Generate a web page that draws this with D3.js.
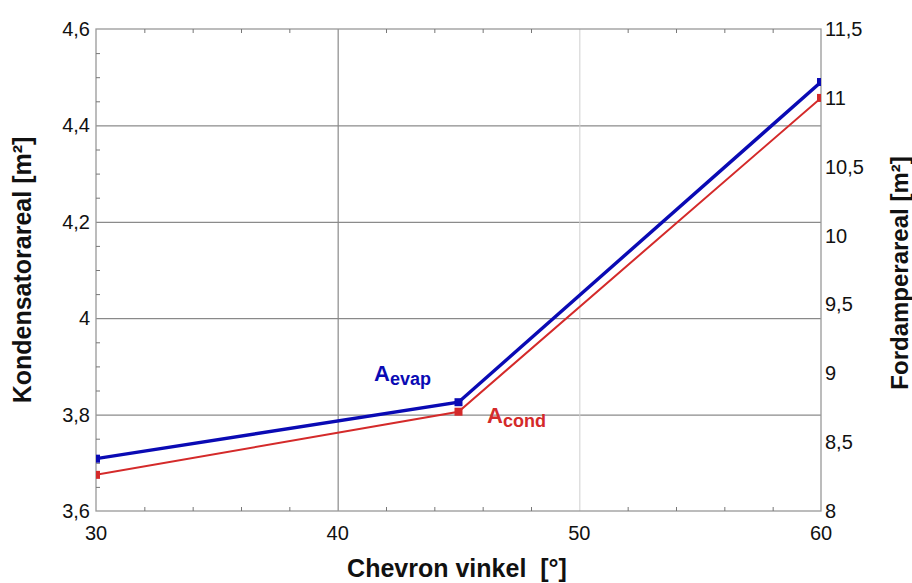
<!DOCTYPE html>
<html>
<head>
<meta charset="utf-8">
<script src="https://cdn.jsdelivr.net/npm/d3@7"></script>
<style>
  html, body { margin: 0; padding: 0; background: #fff; }
  text { font-family: "Liberation Sans", Arial, sans-serif; }
</style>
</head>
<body>
<svg id="chart" width="912" height="583"></svg>
<script>
// Chevron angle (degrees)
const angles = [30, 45, 60];
// Condenser area [m²] – left axis
const condArea = [3.675, 3.806, 4.457];
// Evaporator area [m²] – right axis
const evapArea = [8.38, 8.79, 11.115];

const xTicks = [30, 40, 50, 60];
const xMinor = [32, 34, 36, 38, 42, 44, 46, 48, 52, 54, 56, 58];
const leftTicks = [3.6, 3.8, 4.0, 4.2, 4.4, 4.6];
const leftTickLabels = ["3,6", "3,8", "4", "4,2", "4,4", "4,6"];
const leftMinor = [3.65, 3.7, 3.75, 3.85, 3.9, 3.95, 4.05, 4.1, 4.15, 4.25, 4.3, 4.35, 4.45, 4.5, 4.55];
const rightTicks = [8, 8.5, 9, 9.5, 10, 10.5, 11, 11.5];
const rightTickLabels = ["8", "8,5", "9", "9,5", "10", "10,5", "11", "11,5"];

const svg = d3.select("#chart");
const L = 96, R = 821, T = 29, B = 511;

const x = d3.scaleLinear().domain([30, 60]).range([L, R]);
const yL = d3.scaleLinear().domain([3.6, 4.6]).range([B, T]);
const yR = d3.scaleLinear().domain([8, 11.5]).range([B, T]);

// grid lines
const grid = svg.append("g");
grid.selectAll("line.h").data(leftTicks.slice(1, -1)).enter().append("line")
  .attr("x1", L).attr("x2", R)
  .attr("y1", d => yL(d) + 0.5).attr("y2", d => yL(d) + 0.5)
  .attr("stroke", "#6e6e6e").attr("stroke-width", 1);
grid.append("line")
  .attr("x1", x(40) + 0.5).attr("x2", x(40) + 0.5).attr("y1", T).attr("y2", B)
  .attr("stroke", "#8a8a8a").attr("stroke-width", 1.2);
grid.append("line")
  .attr("x1", x(50) + 0.5).attr("x2", x(50) + 0.5).attr("y1", T).attr("y2", B)
  .attr("stroke", "#cfcfcf").attr("stroke-width", 1);

// frame
svg.append("rect").attr("x", L).attr("y", T).attr("width", R - L).attr("height", B - T)
  .attr("fill", "none").attr("stroke", "#999").attr("stroke-width", 1.3);

// minor ticks (inward)
const ticks = svg.append("g").attr("stroke", "#777").attr("stroke-width", 1);
xMinor.forEach(v => {
  ticks.append("line").attr("x1", x(v) + 0.5).attr("x2", x(v) + 0.5).attr("y1", B).attr("y2", B - 4);
  ticks.append("line").attr("x1", x(v) + 0.5).attr("x2", x(v) + 0.5).attr("y1", T).attr("y2", T + 4);
});
leftMinor.forEach(v => {
  ticks.append("line").attr("x1", L).attr("x2", L + 4).attr("y1", yL(v) + 0.5).attr("y2", yL(v) + 0.5);
});

// tick labels
const fs = 20;
svg.append("g").selectAll("text").data(leftTicks).enter().append("text")
  .attr("x", L - 6).attr("y", d => yL(d)).attr("dy", "0.35em")
  .attr("text-anchor", "end").attr("font-size", fs).attr("fill", "#111")
  .text((d, i) => leftTickLabels[i]);
svg.append("g").selectAll("text").data(rightTicks).enter().append("text")
  .attr("x", R + 4).attr("y", d => yR(d)).attr("dy", "0.35em")
  .attr("text-anchor", "start").attr("font-size", fs).attr("fill", "#111")
  .text((d, i) => rightTickLabels[i]);
svg.append("g").selectAll("text").data(xTicks).enter().append("text")
  .attr("x", d => x(d)).attr("y", B + 29)
  .attr("text-anchor", "middle").attr("font-size", fs).attr("fill", "#111")
  .text(d => d);

// axis titles
svg.append("text").attr("transform", `translate(31,${(T + B) / 2}) rotate(-90)`)
  .attr("text-anchor", "middle").attr("font-size", 25).attr("font-weight", "bold").attr("fill", "#111")
  .text("Kondensatorareal [m²]");
svg.append("text").attr("transform", `translate(908,${(T + B) / 2 + 3}) rotate(-90)`)
  .attr("text-anchor", "middle").attr("font-size", 24).attr("font-weight", "bold").attr("fill", "#111")
  .text("Fordamperareal [m²]");
svg.append("text").attr("x", 457).attr("y", 577)
  .attr("text-anchor", "middle").attr("font-size", 25).attr("font-weight", "bold").attr("fill", "#111")
  .attr("xml:space", "preserve")
  .text("Chevron vinkel  [°]");

// series
svg.append("clipPath").attr("id", "plotClip")
  .append("rect").attr("x", L).attr("y", T).attr("width", R - L).attr("height", B - T);
const plot = svg.append("g").attr("clip-path", "url(#plotClip)");

const red = "#d42a2a", blue = "#0a0ab4";

const condLine = d3.line().x((d, i) => x(angles[i])).y(d => yL(d));
const evapLine = d3.line().x((d, i) => x(angles[i])).y(d => yR(d));

plot.append("path").datum(condArea).attr("d", condLine)
  .attr("fill", "none").attr("stroke", red).attr("stroke-width", 2);
plot.append("path").datum(evapArea).attr("d", evapLine)
  .attr("fill", "none").attr("stroke", blue).attr("stroke-width", 3.4);

plot.selectAll("rect.c").data(condArea).enter().append("rect")
  .attr("x", (d, i) => x(angles[i]) - 4).attr("y", d => yL(d) - 4)
  .attr("width", 8).attr("height", 8).attr("fill", red);
plot.selectAll("rect.e").data(evapArea).enter().append("rect")
  .attr("x", (d, i) => x(angles[i]) - 4).attr("y", d => yR(d) - 4)
  .attr("width", 8).attr("height", 8).attr("fill", blue);

// series labels
const evapLbl = svg.append("text").attr("x", 374).attr("y", 381)
  .attr("font-weight", "bold").attr("fill", blue);
evapLbl.append("tspan").attr("font-size", 22).text("A");
evapLbl.append("tspan").attr("font-size", 18).attr("dy", 4).text("evap");

const condLbl = svg.append("text").attr("x", 487).attr("y", 423)
  .attr("font-weight", "bold").attr("fill", red);
condLbl.append("tspan").attr("font-size", 22).text("A");
condLbl.append("tspan").attr("font-size", 18).attr("dy", 4).text("cond");
</script>
</body>
</html>
